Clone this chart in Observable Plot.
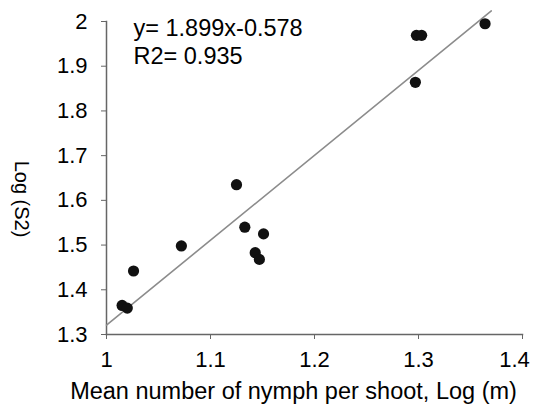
<!DOCTYPE html>
<html>
<head>
<meta charset="utf-8">
<script src="https://cdn.jsdelivr.net/npm/d3@7"></script>
<script src="https://cdn.jsdelivr.net/npm/@observablehq/plot@0.6"></script>
<style>
  html, body { margin: 0; padding: 0; background: #fff; }
  #chart svg { display: block; }
</style>
</head>
<body>
<div id="chart"></div>
<script>
// Data
const xVals = [1.015, 1.020, 1.026, 1.072, 1.125, 1.133, 1.151, 1.143, 1.147, 1.297, 1.298, 1.303, 1.364];
const yVals = [1.365, 1.359, 1.442, 1.498, 1.635, 1.540, 1.525, 1.483, 1.468, 1.864, 1.969, 1.969, 1.995];
const xTicks = [1, 1.1, 1.2, 1.3, 1.4];
const yTicks = [1.3, 1.4, 1.5, 1.6, 1.7, 1.8, 1.9, 2];
const slope = 1.899;
const intercept = -0.578;
const fitRange = [1.0, 1.37];
const eqLines = ["y= 1.899x-0.578", "R2= 0.935"];
const xTitle = "Mean number of nymph per shoot, Log (m)";
const yTitle = "Log (S2)";

const points = xVals.map((x, i) => ({x, y: yVals[i]}));
const fitLine = fitRange.map(x => ({x, y: slope * x + intercept}));
const fmt = d => String(+d.toFixed(1));
const lastX = xTicks[xTicks.length - 1];

const chart = Plot.plot({
  width: 533,
  height: 405,
  marginLeft: 106,
  marginRight: 11,
  marginTop: 21,
  marginBottom: 71,
  style: {fontFamily: "'Liberation Sans', Arial, sans-serif", background: "#fff", color: "#000"},
  x: {domain: [1, 1.4]},
  y: {domain: [1.3, 2]},
  marks: [
    Plot.frame({anchor: "left", stroke: "#666", strokeWidth: 1.5}),
    Plot.frame({anchor: "bottom", stroke: "#666", strokeWidth: 1.5}),
    Plot.axisY({ticks: yTicks, tickFormat: fmt, tickSize: 5, tickPadding: 14, fontSize: 22, stroke: "#666", label: null}),
    Plot.axisX({ticks: xTicks, tickFormat: d => d === lastX ? "" : fmt(d), tickSize: 5, tickPadding: 12, fontSize: 22, stroke: "#666", label: null}),
    Plot.axisX({ticks: [lastX], tickFormat: fmt, tickSize: 0, tickPadding: 17, dx: -8, fontSize: 22, label: null}),
    Plot.line(fitLine, {x: "x", y: "y", stroke: "#8c8c8c", strokeWidth: 1.6}),
    Plot.dot(points, {x: "x", y: "y", r: 5.6, fill: "#111"}),
    Plot.text([eqLines.join("\n")], {frameAnchor: "top-left", textAnchor: "start", lineAnchor: "top", lineHeight: 1.19, dx: 27, dy: -5, fontSize: 23.5, fill: "#000"}),
    Plot.text([xTitle], {frameAnchor: "bottom", textAnchor: "middle", lineAnchor: "middle", dx: -21, dy: 57, fontSize: 23.5, fill: "#000"}),
    Plot.text([yTitle], {frameAnchor: "left", textAnchor: "middle", lineAnchor: "middle", rotate: 90, dx: -85, dy: 21, fontSize: 20, fill: "#000"})
  ]
});
document.getElementById("chart").appendChild(chart);
</script>
</body>
</html>
